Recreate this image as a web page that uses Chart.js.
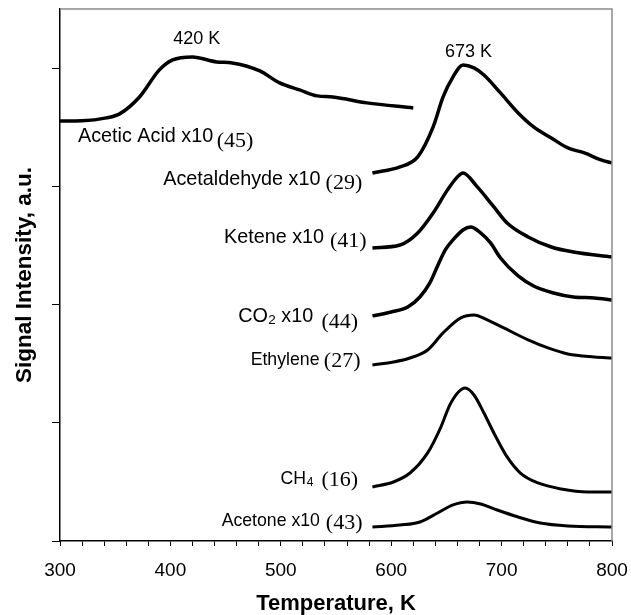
<!DOCTYPE html>
<html>
<head>
<meta charset="utf-8">
<script src="https://cdn.jsdelivr.net/npm/chart.js@4.4.1/dist/chart.umd.min.js"></script>
<style>
  html, body { margin: 0; padding: 0; background: #fff; }
  #c { display: block; }
</style>
</head>
<body>
<canvas id="c" width="631" height="615"></canvas>
<script>
// ---- Data (temperature K, signal in arbitrary stacked units) ----
const aceticT = [300, 320, 342, 354, 372, 390, 402, 420, 442, 456, 481, 499, 517, 533, 547, 578, 620];
const aceticY = [3.553, 3.555, 3.579, 3.613, 3.756, 3.985, 4.069, 4.095, 4.052, 4.044, 3.976, 3.875, 3.816, 3.765, 3.756, 3.706, 3.663];

const acetaldT = [583, 608, 624, 638, 647, 656, 665, 675, 684, 699, 715, 729, 745, 760, 775, 790, 800];
const acetaldY = [3.113, 3.164, 3.249, 3.503, 3.756, 3.926, 4.027, 4.002, 3.942, 3.790, 3.621, 3.503, 3.409, 3.325, 3.283, 3.223, 3.198];

const keteneT = [583, 608, 624, 638, 651, 660, 665, 678, 693, 705, 724, 745, 765, 800];
const keteneY = [2.479, 2.504, 2.606, 2.775, 2.970, 3.080, 3.113, 2.995, 2.826, 2.690, 2.572, 2.487, 2.445, 2.403];

const co2T = [583, 600, 615, 626, 635, 642, 649, 656, 665, 672, 681, 690, 699, 715, 729, 747, 765, 784, 800];
const co2Y = [1.904, 1.937, 1.980, 2.064, 2.183, 2.327, 2.462, 2.547, 2.631, 2.656, 2.606, 2.521, 2.394, 2.242, 2.157, 2.098, 2.064, 2.056, 2.039];

const ethyleneT = [583, 602, 617, 633, 647, 663, 675, 687, 702, 724, 742, 760, 784, 800];
const ethyleneY = [1.489, 1.514, 1.548, 1.616, 1.760, 1.887, 1.912, 1.870, 1.802, 1.701, 1.633, 1.582, 1.557, 1.548];

const ch4T = [583, 602, 617, 633, 645, 654, 667, 675, 684, 693, 705, 717, 733, 754, 778, 800];
const ch4Y = [0.457, 0.499, 0.575, 0.745, 0.964, 1.168, 1.294, 1.235, 1.083, 0.914, 0.711, 0.575, 0.491, 0.440, 0.415, 0.415];

const acetoneT = [583, 608, 626, 642, 656, 669, 681, 696, 715, 735, 760, 800];
const acetoneY = [0.118, 0.135, 0.161, 0.237, 0.305, 0.330, 0.313, 0.262, 0.203, 0.152, 0.127, 0.118];

const xTickLabels = [300, 400, 500, 600, 700, 800];

// Annotation texts: main text, subscript, rest, mass number
const labelTexts = ['Acetic Acid x10', 'Acetaldehyde x10', 'Ketene x10', 'CO', 'Ethylene', 'CH', 'Acetone x10'];
const labelSubs  = ['', '', '', '2', '', '4', ''];
const labelRest  = ['', '', '', ' x10', '', '', ''];
const labelT     = [316.3, 393.5, 448.5, 461.4, 472.7, 499.8, 446.4];
const labelY     = [3.424, 3.057, 2.566, 1.898, 1.531, 0.525, 0.169];
const massTexts  = ['(45)', '(29)', '(41)', '(44)', '(27)', '(16)', '(43)'];
const massT      = [441.9, 540.6, 544.5, 536.9, 539.0, 536.9, 540.8];
const massY      = [3.378, 3.029, 2.532, 1.847, 1.517, 0.516, 0.150];

const peakTexts = ['420 K', '673 K'];
const peakT = [423.8, 670.1];
const peakY = [4.247, 4.133];

// style: font sizes of species labels (px)
const labelFontPx = [19.8, 19.8, 19.8, 19.8, 17.7, 17.7, 17.7];

// ---- Build datasets ----
function pts(xs, ys) { return xs.map((x, i) => ({ x: x, y: ys[i] })); }
const seriesList = [
  [aceticT, aceticY, 3.5], [acetaldT, acetaldY, 3.5], [keteneT, keteneY, 3.5],
  [co2T, co2Y, 3.5], [ethyleneT, ethyleneY, 3], [ch4T, ch4Y, 3], [acetoneT, acetoneY, 3]
];
const datasets = seriesList.map(s => ({
  data: pts(s[0], s[1]),
  borderColor: '#000',
  borderWidth: s[2],
  pointRadius: 0,
  fill: false,
  cubicInterpolationMode: 'monotone'
}));

const SANS = "'Liberation Sans', Arial, sans-serif";
const SERIF = "'Liberation Serif', 'Times New Roman', serif";

const annotationPlugin = {
  id: 'annot',
  afterDraw(chart) {
    const ctx = chart.ctx;
    const xs = chart.scales.x, ys = chart.scales.y;
    const a = chart.chartArea;
    ctx.save();
    // gray top/right frame
    ctx.strokeStyle = '#8c8c8c';
    ctx.lineWidth = 1.5;
    ctx.beginPath();
    ctx.moveTo(a.left, a.top);
    ctx.lineTo(a.right, a.top);
    ctx.lineTo(a.right, a.bottom);
    ctx.stroke();

    ctx.fillStyle = '#000';
    ctx.textBaseline = 'middle';
    // peak labels
    ctx.font = '18px ' + SANS;
    ctx.textAlign = 'center';
    for (let i = 0; i < peakTexts.length; i++) {
      ctx.fillText(peakTexts[i], xs.getPixelForValue(peakT[i]), ys.getPixelForValue(peakY[i]));
    }
    // species labels
    ctx.textAlign = 'left';
    for (let i = 0; i < labelTexts.length; i++) {
      const fs = labelFontPx[i];
      let x = xs.getPixelForValue(labelT[i]);
      const y = ys.getPixelForValue(labelY[i]);
      ctx.font = fs + 'px ' + SANS;
      ctx.fillText(labelTexts[i], x, y);
      x += ctx.measureText(labelTexts[i]).width;
      if (labelSubs[i]) {
        ctx.font = (fs * 0.68).toFixed(1) + 'px ' + SANS;
        ctx.fillText(labelSubs[i], x + 0.5, y + 4);
        x += ctx.measureText(labelSubs[i]).width + 0.5;
      }
      if (labelRest[i]) {
        ctx.font = fs + 'px ' + SANS;
        ctx.fillText(labelRest[i], x, y);
      }
      ctx.font = '22px ' + SERIF;
      ctx.fillText(massTexts[i], xs.getPixelForValue(massT[i]), ys.getPixelForValue(massY[i]));
    }
    ctx.restore();
  }
};

new Chart(document.getElementById('c'), {
  type: 'line',
  data: { datasets: datasets },
  options: {
    responsive: false,
    devicePixelRatio: 1,
    animation: false,
    layout: { padding: { top: 9, right: 19, left: 0, bottom: 0 } },
    plugins: { legend: { display: false }, tooltip: { enabled: false } },
    scales: {
      x: {
        type: 'linear',
        min: 300, max: 800,
        afterFit(scale) { scale.height = 74; scale.paddingLeft = 0; scale.paddingRight = 0; },
        border: { color: '#000', width: 1.5 },
        grid: { drawOnChartArea: false, drawTicks: true, tickLength: 5, color: '#000', lineWidth: 1 },
        ticks: {
          stepSize: 20,
          autoSkip: false,
          maxRotation: 0,
          padding: 13,
          color: '#000',
          font: { family: SANS, size: 19 },
          callback: (v) => xTickLabels.includes(v) ? String(v) : ''
        },
        title: {
          display: true,
          text: 'Temperature, K',
          color: '#000',
          font: { family: SANS, size: 22, weight: 'bold', lineHeight: 1 },
          padding: 0
        }
      },
      y: {
        type: 'linear',
        min: 0, max: 4.5,
        afterFit(scale) { scale.width = 60; scale.paddingTop = 0; scale.paddingBottom = 0; },
        border: { color: '#000', width: 1.5 },
        grid: { drawOnChartArea: false, drawTicks: true, tickLength: 8, color: '#000', lineWidth: 1 },
        ticks: {
          stepSize: 1,
          includeBounds: false,
          callback: () => ''
        },
        title: {
          display: true,
          text: 'Signal Intensity, a.u.',
          color: '#000',
          font: { family: SANS, size: 22.5, weight: 'bold', lineHeight: 1.2 },
          padding: { top: 11, bottom: 0 }
        }
      }
    }
  },
  plugins: [annotationPlugin]
});
</script>
</body>
</html>
